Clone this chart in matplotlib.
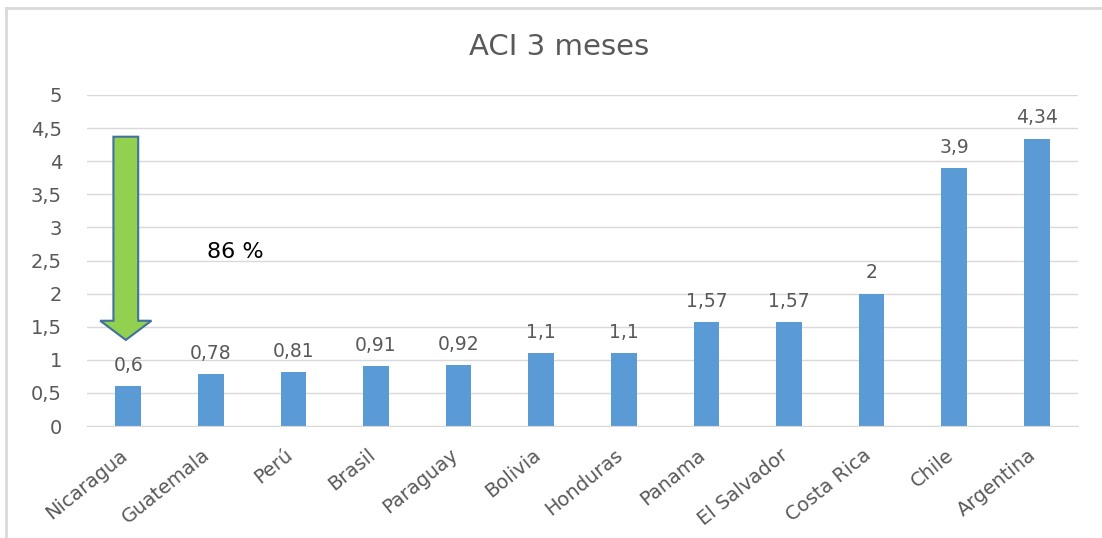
import numpy as np
import matplotlib.pyplot as plt
from matplotlib.patches import FancyArrow, Rectangle
from matplotlib.lines import Line2D
from matplotlib.ticker import FuncFormatter

plt.rcParams['font.family'] = ['DejaVu Sans']

paises = ['Nicaragua', 'Guatemala', 'Perú', 'Brasil', 'Paraguay', 'Bolivia',
          'Honduras', 'Panama', 'El Salvador', 'Costa Rica', 'Chile', 'Argentina']
aci = [0.6, 0.78, 0.81, 0.91, 0.92, 1.1, 1.1, 1.57, 1.57, 2, 3.9, 4.34]
yticks = [0, 0.5, 1, 1.5, 2, 2.5, 3, 3.5, 4, 4.5, 5]

azul = '#5B9BD5'
gris = '#595959'


def coma(v, pos=None):
    s = f'{v:g}'
    return s.replace('.', ',')


fig = plt.figure(figsize=(11.02, 5.38), dpi=100)
ax = fig.add_axes([87 / 1102, 1 - 426 / 538, (1078 - 87) / 1102, (426 - 95) / 538])

x = np.arange(len(paises))
ax.bar(x, aci, width=0.31, color=azul, zorder=2)
for xi, v in zip(x, aci):
    ax.text(xi, v + 0.17, coma(v), ha='center', va='bottom', fontsize=13.5, color=gris)

ax.set_xlim(-0.5, len(paises) - 0.5)
ax.set_ylim(0, 5)
ax.set_yticks(yticks)
ax.yaxis.set_major_formatter(FuncFormatter(coma))
ax.grid(axis='y', color='#D9D9D9', linewidth=1, zorder=0)
# etiquetas giradas, un poco a la izquierda de cada barra
ax.set_xticks(x - 0.11)
ax.set_xticklabels(paises, rotation=39, ha='right', rotation_mode='anchor',
                   fontsize=14, color=gris)
ax.tick_params(axis='y', length=0, pad=18, labelsize=14, labelcolor=gris)
ax.tick_params(axis='x', length=0, pad=14)
for side in ['top', 'right', 'left']:
    ax.spines[side].set_visible(False)
ax.spines['bottom'].set_color('#D9D9D9')

# flecha verde de Argentina a Nicaragua
ax.add_patch(FancyArrow(-0.03, 4.37, 0, -3.07, width=0.30, head_width=0.62,
                        head_length=0.29, length_includes_head=True,
                        facecolor='#92D050', edgecolor='#41719C', linewidth=1.5,
                        zorder=3))

# cuadro blanco con el porcentaje
ax.add_patch(Rectangle((0.63, 2.05), 1.55, 1.1, facecolor='white',
                       edgecolor='none', zorder=1))
ax.text(1.29, 2.63, '86 %', ha='center', va='center', fontsize=16,
        color='black', zorder=4)

fig.text(559 / 1102, 1 - 47 / 538, 'ACI 3 meses', ha='center', va='center',
         fontsize=21, color=gris)

# marco del grafico
fig.add_artist(Line2D([6 / 1102, 1], [1 - 8 / 538] * 2, color='#D9D9D9', linewidth=2))
fig.add_artist(Line2D([6 / 1102] * 2, [0, 1 - 8 / 538], color='#D9D9D9', linewidth=2))

fig.savefig('out.png', dpi=100)
